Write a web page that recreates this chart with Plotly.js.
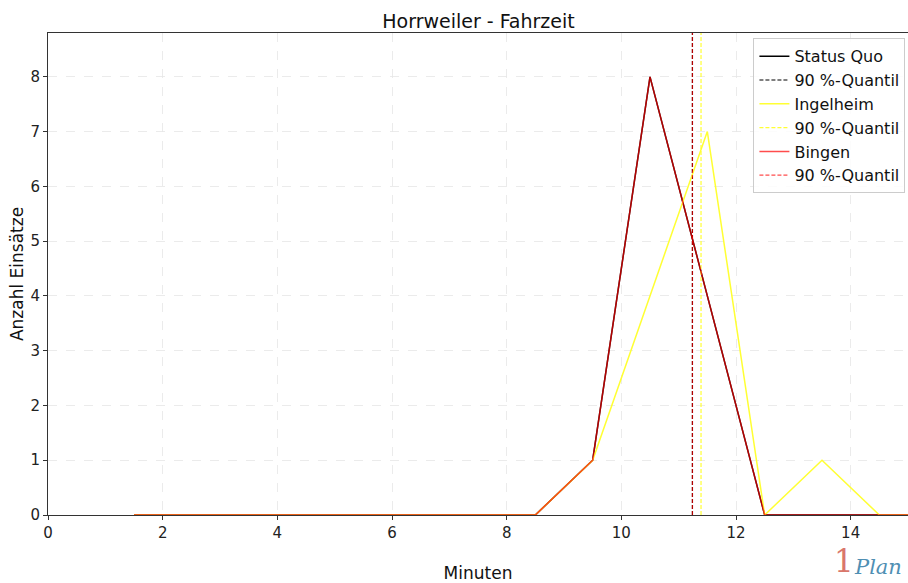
<!DOCTYPE html>
<html>
<head>
<meta charset="utf-8">
<script src="https://cdn.plot.ly/plotly-3.0.1.min.js"></script>
<style>html,body{margin:0;padding:0;background:#fff;}#chart{width:908px;height:583px;}</style>
</head>
<body>
<div id="chart"></div>
<script>
const minutes = [1.5, 2.5, 3.5, 4.5, 5.5, 6.5, 7.5, 8.5, 9.5, 10.5, 11.5, 12.5, 13.5, 14.5, 15.5];
const statusQuo = [0, 0, 0, 0, 0, 0, 0, 0, 1, 8, 4, 0, 0, 0, 0];
const ingelheim = [0, 0, 0, 0, 0, 0, 0, 0, 1, 4, 7, 0, 1, 0, 0];
const bingen    = [0, 0, 0, 0, 0, 0, 0, 0, 1, 8, 4, 0, 0, 0, 0];
const seriesNames = ["Status Quo", "Ingelheim", "Bingen"];
const quantiles = [11.24, 11.39, 11.24];
const quantileLabel = "90 %-Quantil";
const yTop = 8.8;

const colors = ["#000000", "#ffff33", "rgba(255,0,0,0.7)"];
const series = [statusQuo, ingelheim, bingen];
const traces = [];
series.forEach((s, i) => {
  traces.push({x: minutes, y: s, type: "scatter", mode: "lines", name: seriesNames[i],
    line: {color: colors[i], width: 1.5}});
  traces.push({x: [quantiles[i], quantiles[i]], y: [0, yTop], type: "scatter", mode: "lines",
    name: quantileLabel, line: {color: colors[i], width: 1.2, dash: "4px,2px"}});
});

const font = "DejaVu Sans, sans-serif";
const axisCommon = {ticks: "outside", ticklen: 4, tickcolor: "#333",
  showline: true, linecolor: "#333", linewidth: 1, mirror: true, zeroline: false,
  showgrid: true, gridcolor: "#e6e6e6", griddash: "dash", gridwidth: 0.8,
  tickfont: {size: 15, color: "#222", family: font}};
const layout = {
  width: 908, height: 583,
  margin: {l: 48, r: 0, t: 33, b: 68},
  paper_bgcolor: "#fff", plot_bgcolor: "#fff",
  font: {family: font, color: "#000"},
  title: {text: "Horrweiler - Fahrzeit", font: {size: 19, family: font, color: "#111"}, x: 0.527, xanchor: "center", y: 0.963, yanchor: "middle"},
  xaxis: Object.assign({}, axisCommon, {range: [0, 15], tickvals: [0, 2, 4, 6, 8, 10, 12, 14],
    title: {text: "Minuten", font: {size: 17, color: "#111"}, standoff: 26}}),
  yaxis: Object.assign({}, axisCommon, {range: [0, yTop], tickvals: [0, 1, 2, 3, 4, 5, 6, 7, 8],
    title: {text: "Anzahl Einsätze", font: {size: 17, color: "#111"}, standoff: 2}}),
  legend: {x: 0.997, xanchor: "right", y: 0.989, yanchor: "top", bgcolor: "rgba(255,255,255,0.85)",
    bordercolor: "#cccccc", borderwidth: 1, font: {size: 16, color: "#111"}, tracegroupgap: 0},
  showlegend: true,
  annotations: [
    {text: "1", xref: "paper", yref: "paper", x: 0.94, y: -0.137, xanchor: "right", yanchor: "bottom", showarrow: false,
      font: {family: "DejaVu Serif, serif", size: 31, color: "#d9776b"}},
    {text: "<i>Plan</i>", xref: "paper", yref: "paper", x: 0.995, y: -0.137, xanchor: "right", yanchor: "bottom", showarrow: false,
      font: {family: "DejaVu Serif, serif", size: 21, color: "#4f8fb3"}}
  ]
};
Plotly.newPlot("chart", traces, layout, {displayModeBar: false, staticPlot: true});
</script>
</body>
</html>
